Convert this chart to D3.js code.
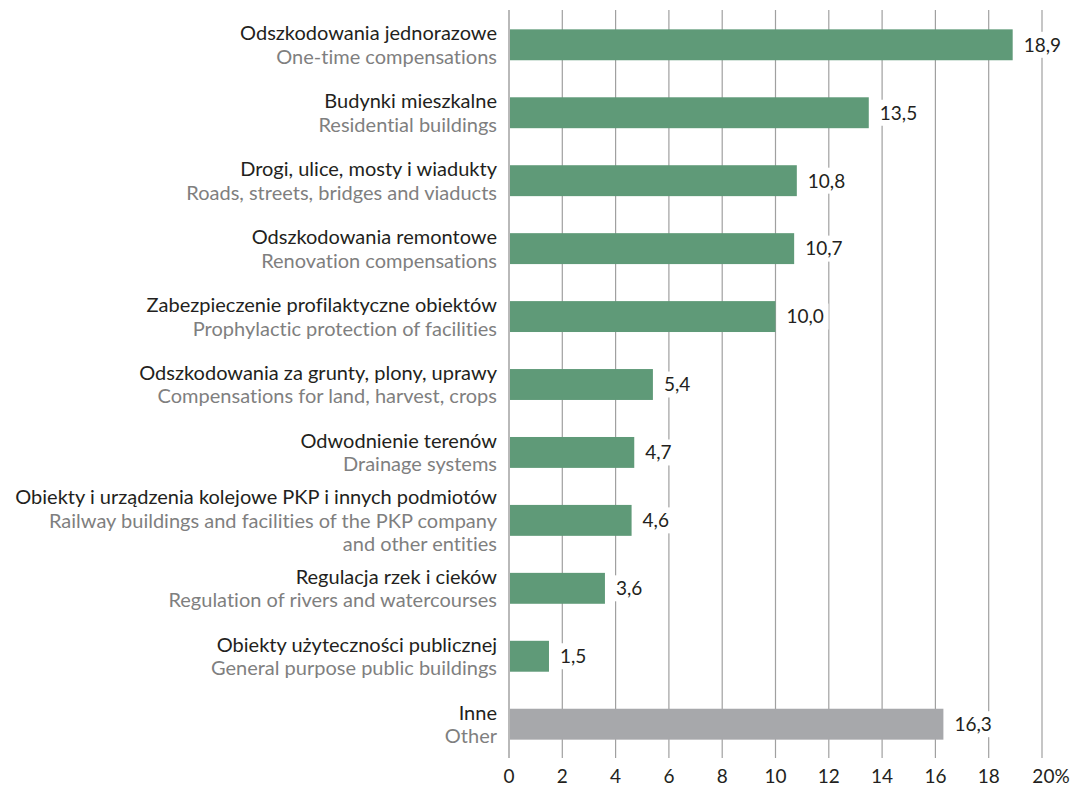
<!DOCTYPE html>
<html>
<head>
<meta charset="utf-8">
<script src="https://cdn.jsdelivr.net/npm/d3@7"></script>
<style>
  html, body { margin: 0; padding: 0; background: #fff; }
  svg text { font-family: Lato, "Open Sans", sans-serif; font-variant-ligatures: none; font-feature-settings: "liga" 0, "clig" 0, "dlig" 0; }
</style>
</head>
<body>
<svg id="chart" width="1072" height="787"></svg>
<script>
// Category labels (Polish / English) and shares in percent
const labelsPl = [
  "Odszkodowania jednorazowe",
  "Budynki mieszkalne",
  "Drogi, ulice, mosty i wiadukty",
  "Odszkodowania remontowe",
  "Zabezpieczenie profilaktyczne obiektów",
  "Odszkodowania za grunty, plony, uprawy",
  "Odwodnienie terenów",
  "Obiekty i urządzenia kolejowe PKP i innych podmiotów",
  "Regulacja rzek i cieków",
  "Obiekty użyteczności publicznej",
  "Inne"
];
const labelsEn = [
  ["One-time compensations"],
  ["Residential buildings"],
  ["Roads, streets, bridges and viaducts"],
  ["Renovation compensations"],
  ["Prophylactic protection of facilities"],
  ["Compensations for land, harvest, crops"],
  ["Drainage systems"],
  ["Railway buildings and facilities of the PKP company", "and other entities"],
  ["Regulation of rivers and watercourses"],
  ["General purpose public buildings"],
  ["Other"]
];
const values = [18.9, 13.5, 10.8, 10.7, 10.0, 5.4, 4.7, 4.6, 3.6, 1.5, 16.3];
const tickValues = [0, 2, 4, 6, 8, 10, 12, 14, 16, 18, 20];

const data = values.map((v, i) => ({ i, v, pl: labelsPl[i], en: labelsEn[i], other: i === values.length - 1 }));

const svg = d3.select("#chart");
const x0 = 509, x1 = 1042;
const fsNum = 19, fsLab = 20;
const x = d3.scaleLinear().domain([0, 20]).range([x0, x1]);
const y = d3.scaleBand().domain(d3.range(values.length)).range([11, 758]).paddingInner(0.545).paddingOuter(0.27);

// Vertical gridlines
svg.append("g").selectAll("line")
  .data(tickValues)
  .join("line")
  .attr("x1", d => x(d)).attr("x2", d => x(d))
  .attr("y1", 10).attr("y2", 758)
  .attr("stroke", d => d === 0 ? "#8a8a8a" : "#a0a0a0")
  .attr("stroke-width", 1.2);

// Tick labels
svg.append("g").selectAll("text")
  .data(tickValues)
  .join("text")
  .attr("x", d => x(d) + (d === 20 ? 9 : 0))
  .attr("y", 783)
  .attr("text-anchor", "middle")
  .attr("font-size", fsNum)
  .attr("fill", "#231f20")
  .text(d => d === 20 ? "20%" : d);

// Bars
svg.append("g").selectAll("rect")
  .data(data)
  .join("rect")
  .attr("x", x(0) + 1)
  .attr("y", d => y(d.i))
  .attr("width", d => x(d.v) - x(0) - 1)
  .attr("height", y.bandwidth())
  .attr("fill", d => d.other ? "#a7a8ab" : "#5f9a78");

// Value labels with white backing so gridlines break behind them
const fmt = v => d3.format(".1f")(v).replace(".", ",");
const vl = svg.append("g").selectAll("g")
  .data(data)
  .join("g")
  .attr("transform", d => `translate(${x(d.v) + 11},${y(d.i) + y.bandwidth() / 2})`);
vl.append("rect")
  .attr("x", -4).attr("y", -13).attr("height", 26)
  .attr("width", d => fmt(d.v).length * 10 + 6)
  .attr("fill", "#fff");
vl.append("text")
  .attr("dy", "0.36em")
  .attr("font-size", fsNum)
  .attr("fill", "#231f20")
  .text(d => fmt(d.v));

// Category labels
const lineH = 23.5;
const lab = svg.append("g").selectAll("text")
  .data(data)
  .join("text")
  .attr("text-anchor", "end")
  .attr("font-size", fsLab);
lab.each(function (d) {
  const lines = [{ t: d.pl, c: "#231f20" }].concat(d.en.map(t => ({ t, c: "#7f7f7f" })));
  const cy = y(d.i) + y.bandwidth() / 2;
  const start = cy - (lines.length - 1) * lineH / 2;
  d3.select(this).selectAll("tspan")
    .data(lines)
    .join("tspan")
    .attr("x", 497)
    .attr("y", (l, k) => start + k * lineH)
    .attr("dy", "0.36em")
    .attr("fill", l => l.c)
    .text(l => l.t);
});
</script>
</body>
</html>
